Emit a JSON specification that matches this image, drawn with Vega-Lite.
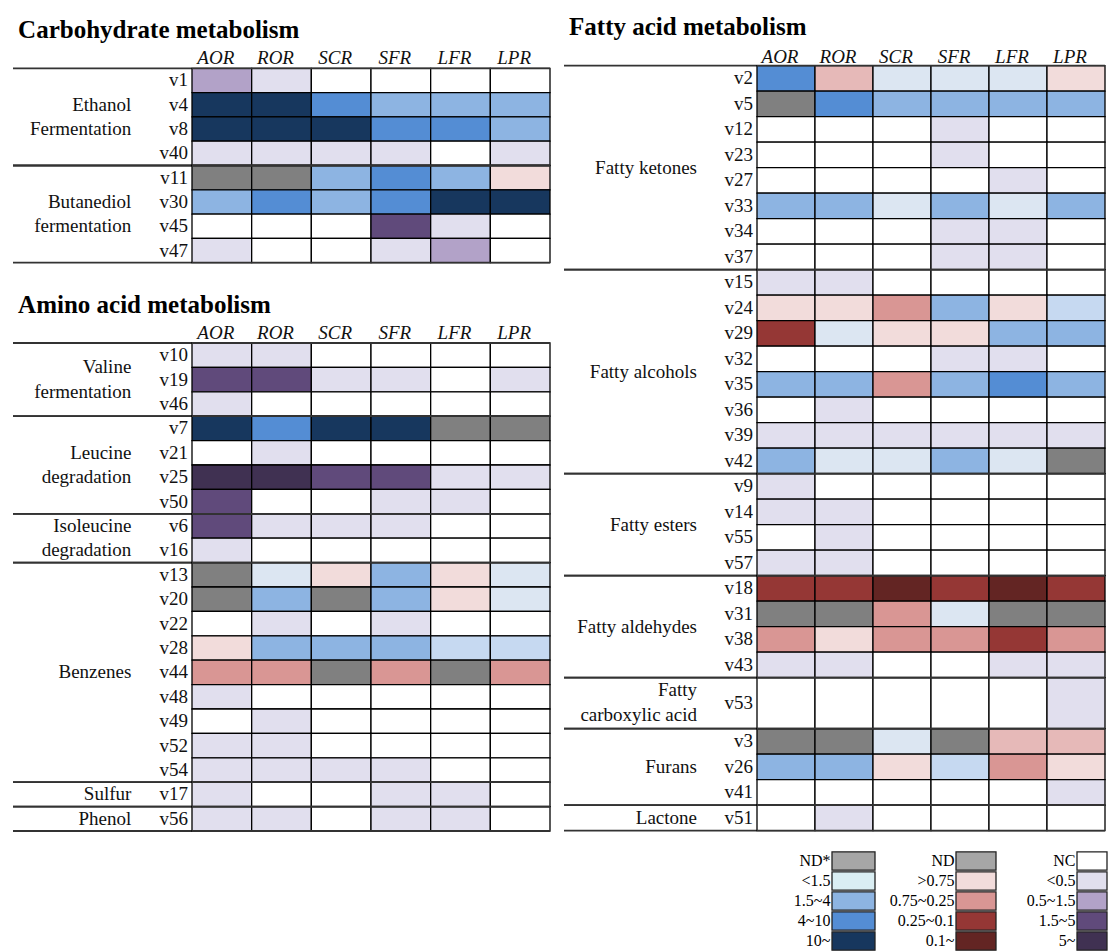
{
  "$schema": "https://vega.github.io/schema/vega-lite/v6.json",
  "padding": {"left": 12, "top": 15, "right": 0, "bottom": 0},
  "config": {"view": {"stroke": null}, "text": {"font": "Liberation Serif, Times New Roman, Times, DejaVu Serif, serif"}},
  "datasets": {
    "cols": [{"s":"AOR"},{"s":"ROR"},{"s":"SCR"},{"s":"SFR"},{"s":"LFR"},{"s":"LPR"}],
    "carbG": [
      {"g":"Ethanol\nFermentation","first":"v1","last":"v40","a":"v4","k":"m"},
      {"g":"Butanediol\nfermentation","first":"v11","last":"v47","a":"v30","k":"m"}
    ],
    "aminoG": [
      {"g":"Valine\nfermentation","first":"v10","last":"v46","a":"v10","k":"e"},
      {"g":"Leucine\ndegradation","first":"v7","last":"v50","a":"v21","k":"m"},
      {"g":"Isoleucine\ndegradation","first":"v6","last":"v16","a":"v6","k":"m"},
      {"g":"Benzenes","first":"v13","last":"v54","a":"v44","k":"m"},
      {"g":"Sulfur","first":"v17","last":"v17","a":"v17","k":"m"},
      {"g":"Phenol","first":"v56","last":"v56","a":"v56","k":"m"}
    ],
    "fattyG": [
      {"g":"Fatty ketones","first":"v2","last":"v37","a":"v23","k":"e"},
      {"g":"Fatty alcohols","first":"v15","last":"v42","a":"v32","k":"e"},
      {"g":"Fatty esters","first":"v9","last":"v57","a":"v14","k":"e"},
      {"g":"Fatty aldehydes","first":"v18","last":"v43","a":"v31","k":"e"},
      {"g":"Fatty\ncarboxylic acid","first":"v53","last":"v53+","a":"v53","k":"m"},
      {"g":"Furans","first":"v3","last":"v41","a":"v26","k":"m"},
      {"g":"Lactone","first":"v51","last":"v51","a":"v51","k":"m"}
    ],
    "leg": [
      {"k":"b","lab":"ND*","c":"G"},{"k":"b","lab":"<1.5","c":"B1"},{"k":"b","lab":"1.5~4","c":"B2"},{"k":"b","lab":"4~10","c":"B3"},{"k":"b","lab":"10~","c":"B4"},
      {"k":"r","lab":"ND","c":"G"},{"k":"r","lab":">0.75","c":"R1"},{"k":"r","lab":"0.75~0.25","c":"R2"},{"k":"r","lab":"0.25~0.1","c":"R3"},{"k":"r","lab":"0.1~","c":"R4"},
      {"k":"p","lab":"NC","c":"W"},{"k":"p","lab":"<0.5","c":"P1"},{"k":"p","lab":"0.5~1.5","c":"P2"},{"k":"p","lab":"1.5~5","c":"P3"},{"k":"p","lab":"5~","c":"P4"}
    ],
    "carb": [
      {"v":"v1","s":"AOR","c":"P2"},{"v":"v1","s":"ROR","c":"P1"},{"v":"v1","s":"SCR","c":"W"},{"v":"v1","s":"SFR","c":"W"},{"v":"v1","s":"LFR","c":"W"},{"v":"v1","s":"LPR","c":"W"},
      {"v":"v4","s":"AOR","c":"B4"},{"v":"v4","s":"ROR","c":"B4"},{"v":"v4","s":"SCR","c":"B3"},{"v":"v4","s":"SFR","c":"B2"},{"v":"v4","s":"LFR","c":"B2"},{"v":"v4","s":"LPR","c":"B2"},
      {"v":"v8","s":"AOR","c":"B4"},{"v":"v8","s":"ROR","c":"B4"},{"v":"v8","s":"SCR","c":"B4"},{"v":"v8","s":"SFR","c":"B3"},{"v":"v8","s":"LFR","c":"B3"},{"v":"v8","s":"LPR","c":"B2"},
      {"v":"v40","s":"AOR","c":"P1"},{"v":"v40","s":"ROR","c":"P1"},{"v":"v40","s":"SCR","c":"P1"},{"v":"v40","s":"SFR","c":"P1"},{"v":"v40","s":"LFR","c":"W"},{"v":"v40","s":"LPR","c":"P1"},
      {"v":"v11","s":"AOR","c":"G"},{"v":"v11","s":"ROR","c":"G"},{"v":"v11","s":"SCR","c":"B2"},{"v":"v11","s":"SFR","c":"B3"},{"v":"v11","s":"LFR","c":"B2"},{"v":"v11","s":"LPR","c":"R1"},
      {"v":"v30","s":"AOR","c":"B2"},{"v":"v30","s":"ROR","c":"B3"},{"v":"v30","s":"SCR","c":"B2"},{"v":"v30","s":"SFR","c":"B3"},{"v":"v30","s":"LFR","c":"B4"},{"v":"v30","s":"LPR","c":"B4"},
      {"v":"v45","s":"AOR","c":"W"},{"v":"v45","s":"ROR","c":"W"},{"v":"v45","s":"SCR","c":"W"},{"v":"v45","s":"SFR","c":"P3"},{"v":"v45","s":"LFR","c":"P1"},{"v":"v45","s":"LPR","c":"W"},
      {"v":"v47","s":"AOR","c":"P1"},{"v":"v47","s":"ROR","c":"W"},{"v":"v47","s":"SCR","c":"W"},{"v":"v47","s":"SFR","c":"P1"},{"v":"v47","s":"LFR","c":"P2"},{"v":"v47","s":"LPR","c":"W"}
    ],
    "amino": [
      {"v":"v10","s":"AOR","c":"P1"},{"v":"v10","s":"ROR","c":"P1"},{"v":"v10","s":"SCR","c":"W"},{"v":"v10","s":"SFR","c":"W"},{"v":"v10","s":"LFR","c":"W"},{"v":"v10","s":"LPR","c":"W"},
      {"v":"v19","s":"AOR","c":"P3"},{"v":"v19","s":"ROR","c":"P3"},{"v":"v19","s":"SCR","c":"P1"},{"v":"v19","s":"SFR","c":"P1"},{"v":"v19","s":"LFR","c":"W"},{"v":"v19","s":"LPR","c":"P1"},
      {"v":"v46","s":"AOR","c":"P1"},{"v":"v46","s":"ROR","c":"W"},{"v":"v46","s":"SCR","c":"W"},{"v":"v46","s":"SFR","c":"W"},{"v":"v46","s":"LFR","c":"W"},{"v":"v46","s":"LPR","c":"W"},
      {"v":"v7","s":"AOR","c":"B4"},{"v":"v7","s":"ROR","c":"B3"},{"v":"v7","s":"SCR","c":"B4"},{"v":"v7","s":"SFR","c":"B4"},{"v":"v7","s":"LFR","c":"G"},{"v":"v7","s":"LPR","c":"G"},
      {"v":"v21","s":"AOR","c":"W"},{"v":"v21","s":"ROR","c":"P1"},{"v":"v21","s":"SCR","c":"W"},{"v":"v21","s":"SFR","c":"W"},{"v":"v21","s":"LFR","c":"W"},{"v":"v21","s":"LPR","c":"W"},
      {"v":"v25","s":"AOR","c":"P4"},{"v":"v25","s":"ROR","c":"P4"},{"v":"v25","s":"SCR","c":"P3"},{"v":"v25","s":"SFR","c":"P3"},{"v":"v25","s":"LFR","c":"P1"},{"v":"v25","s":"LPR","c":"P1"},
      {"v":"v50","s":"AOR","c":"P3"},{"v":"v50","s":"ROR","c":"W"},{"v":"v50","s":"SCR","c":"W"},{"v":"v50","s":"SFR","c":"P1"},{"v":"v50","s":"LFR","c":"P1"},{"v":"v50","s":"LPR","c":"W"},
      {"v":"v6","s":"AOR","c":"P3"},{"v":"v6","s":"ROR","c":"P1"},{"v":"v6","s":"SCR","c":"P1"},{"v":"v6","s":"SFR","c":"P1"},{"v":"v6","s":"LFR","c":"W"},{"v":"v6","s":"LPR","c":"W"},
      {"v":"v16","s":"AOR","c":"P1"},{"v":"v16","s":"ROR","c":"W"},{"v":"v16","s":"SCR","c":"W"},{"v":"v16","s":"SFR","c":"W"},{"v":"v16","s":"LFR","c":"W"},{"v":"v16","s":"LPR","c":"W"},
      {"v":"v13","s":"AOR","c":"G"},{"v":"v13","s":"ROR","c":"B1"},{"v":"v13","s":"SCR","c":"R1"},{"v":"v13","s":"SFR","c":"B2"},{"v":"v13","s":"LFR","c":"R1"},{"v":"v13","s":"LPR","c":"B1"},
      {"v":"v20","s":"AOR","c":"G"},{"v":"v20","s":"ROR","c":"B2"},{"v":"v20","s":"SCR","c":"G"},{"v":"v20","s":"SFR","c":"B2"},{"v":"v20","s":"LFR","c":"R1"},{"v":"v20","s":"LPR","c":"B1"},
      {"v":"v22","s":"AOR","c":"W"},{"v":"v22","s":"ROR","c":"P1"},{"v":"v22","s":"SCR","c":"W"},{"v":"v22","s":"SFR","c":"P1"},{"v":"v22","s":"LFR","c":"W"},{"v":"v22","s":"LPR","c":"W"},
      {"v":"v28","s":"AOR","c":"R1"},{"v":"v28","s":"ROR","c":"B2"},{"v":"v28","s":"SCR","c":"B2"},{"v":"v28","s":"SFR","c":"B2"},{"v":"v28","s":"LFR","c":"B1x"},{"v":"v28","s":"LPR","c":"B1x"},
      {"v":"v44","s":"AOR","c":"R2"},{"v":"v44","s":"ROR","c":"R2"},{"v":"v44","s":"SCR","c":"G"},{"v":"v44","s":"SFR","c":"R2"},{"v":"v44","s":"LFR","c":"G"},{"v":"v44","s":"LPR","c":"R2"},
      {"v":"v48","s":"AOR","c":"P1"},{"v":"v48","s":"ROR","c":"W"},{"v":"v48","s":"SCR","c":"W"},{"v":"v48","s":"SFR","c":"W"},{"v":"v48","s":"LFR","c":"W"},{"v":"v48","s":"LPR","c":"W"},
      {"v":"v49","s":"AOR","c":"W"},{"v":"v49","s":"ROR","c":"P1"},{"v":"v49","s":"SCR","c":"W"},{"v":"v49","s":"SFR","c":"W"},{"v":"v49","s":"LFR","c":"W"},{"v":"v49","s":"LPR","c":"W"},
      {"v":"v52","s":"AOR","c":"P1"},{"v":"v52","s":"ROR","c":"P1"},{"v":"v52","s":"SCR","c":"W"},{"v":"v52","s":"SFR","c":"W"},{"v":"v52","s":"LFR","c":"W"},{"v":"v52","s":"LPR","c":"W"},
      {"v":"v54","s":"AOR","c":"P1"},{"v":"v54","s":"ROR","c":"P1"},{"v":"v54","s":"SCR","c":"P1"},{"v":"v54","s":"SFR","c":"P1"},{"v":"v54","s":"LFR","c":"W"},{"v":"v54","s":"LPR","c":"W"},
      {"v":"v17","s":"AOR","c":"P1"},{"v":"v17","s":"ROR","c":"W"},{"v":"v17","s":"SCR","c":"W"},{"v":"v17","s":"SFR","c":"P1"},{"v":"v17","s":"LFR","c":"P1"},{"v":"v17","s":"LPR","c":"W"},
      {"v":"v56","s":"AOR","c":"P1"},{"v":"v56","s":"ROR","c":"P1"},{"v":"v56","s":"SCR","c":"W"},{"v":"v56","s":"SFR","c":"P1"},{"v":"v56","s":"LFR","c":"P1"},{"v":"v56","s":"LPR","c":"W"}
    ],
    "fatty": [
      {"v":"v2","s":"AOR","c":"B3"},{"v":"v2","s":"ROR","c":"R1x"},{"v":"v2","s":"SCR","c":"B1"},{"v":"v2","s":"SFR","c":"B1"},{"v":"v2","s":"LFR","c":"B1"},{"v":"v2","s":"LPR","c":"R1"},
      {"v":"v5","s":"AOR","c":"G"},{"v":"v5","s":"ROR","c":"B3"},{"v":"v5","s":"SCR","c":"B2"},{"v":"v5","s":"SFR","c":"B2"},{"v":"v5","s":"LFR","c":"B2"},{"v":"v5","s":"LPR","c":"B2"},
      {"v":"v12","s":"AOR","c":"W"},{"v":"v12","s":"ROR","c":"W"},{"v":"v12","s":"SCR","c":"W"},{"v":"v12","s":"SFR","c":"P1"},{"v":"v12","s":"LFR","c":"W"},{"v":"v12","s":"LPR","c":"W"},
      {"v":"v23","s":"AOR","c":"W"},{"v":"v23","s":"ROR","c":"W"},{"v":"v23","s":"SCR","c":"W"},{"v":"v23","s":"SFR","c":"P1"},{"v":"v23","s":"LFR","c":"W"},{"v":"v23","s":"LPR","c":"W"},
      {"v":"v27","s":"AOR","c":"W"},{"v":"v27","s":"ROR","c":"W"},{"v":"v27","s":"SCR","c":"W"},{"v":"v27","s":"SFR","c":"W"},{"v":"v27","s":"LFR","c":"P1"},{"v":"v27","s":"LPR","c":"W"},
      {"v":"v33","s":"AOR","c":"B2"},{"v":"v33","s":"ROR","c":"B2"},{"v":"v33","s":"SCR","c":"B1"},{"v":"v33","s":"SFR","c":"B2"},{"v":"v33","s":"LFR","c":"B1"},{"v":"v33","s":"LPR","c":"B2"},
      {"v":"v34","s":"AOR","c":"W"},{"v":"v34","s":"ROR","c":"W"},{"v":"v34","s":"SCR","c":"W"},{"v":"v34","s":"SFR","c":"P1"},{"v":"v34","s":"LFR","c":"P1"},{"v":"v34","s":"LPR","c":"W"},
      {"v":"v37","s":"AOR","c":"W"},{"v":"v37","s":"ROR","c":"W"},{"v":"v37","s":"SCR","c":"W"},{"v":"v37","s":"SFR","c":"P1"},{"v":"v37","s":"LFR","c":"P1"},{"v":"v37","s":"LPR","c":"W"},
      {"v":"v15","s":"AOR","c":"P1"},{"v":"v15","s":"ROR","c":"P1"},{"v":"v15","s":"SCR","c":"W"},{"v":"v15","s":"SFR","c":"W"},{"v":"v15","s":"LFR","c":"W"},{"v":"v15","s":"LPR","c":"W"},
      {"v":"v24","s":"AOR","c":"R1"},{"v":"v24","s":"ROR","c":"R1"},{"v":"v24","s":"SCR","c":"R2"},{"v":"v24","s":"SFR","c":"B2"},{"v":"v24","s":"LFR","c":"R1"},{"v":"v24","s":"LPR","c":"B1x"},
      {"v":"v29","s":"AOR","c":"R3"},{"v":"v29","s":"ROR","c":"B1"},{"v":"v29","s":"SCR","c":"R1"},{"v":"v29","s":"SFR","c":"R1"},{"v":"v29","s":"LFR","c":"B2"},{"v":"v29","s":"LPR","c":"B2"},
      {"v":"v32","s":"AOR","c":"W"},{"v":"v32","s":"ROR","c":"W"},{"v":"v32","s":"SCR","c":"W"},{"v":"v32","s":"SFR","c":"P1"},{"v":"v32","s":"LFR","c":"P1"},{"v":"v32","s":"LPR","c":"W"},
      {"v":"v35","s":"AOR","c":"B2"},{"v":"v35","s":"ROR","c":"B2"},{"v":"v35","s":"SCR","c":"R2"},{"v":"v35","s":"SFR","c":"B2"},{"v":"v35","s":"LFR","c":"B3"},{"v":"v35","s":"LPR","c":"B2"},
      {"v":"v36","s":"AOR","c":"W"},{"v":"v36","s":"ROR","c":"P1"},{"v":"v36","s":"SCR","c":"W"},{"v":"v36","s":"SFR","c":"W"},{"v":"v36","s":"LFR","c":"W"},{"v":"v36","s":"LPR","c":"W"},
      {"v":"v39","s":"AOR","c":"P1"},{"v":"v39","s":"ROR","c":"P1"},{"v":"v39","s":"SCR","c":"P1"},{"v":"v39","s":"SFR","c":"P1"},{"v":"v39","s":"LFR","c":"P1"},{"v":"v39","s":"LPR","c":"P1"},
      {"v":"v42","s":"AOR","c":"B2"},{"v":"v42","s":"ROR","c":"B1"},{"v":"v42","s":"SCR","c":"B1"},{"v":"v42","s":"SFR","c":"B2"},{"v":"v42","s":"LFR","c":"B1"},{"v":"v42","s":"LPR","c":"G"},
      {"v":"v9","s":"AOR","c":"P1"},{"v":"v9","s":"ROR","c":"W"},{"v":"v9","s":"SCR","c":"W"},{"v":"v9","s":"SFR","c":"W"},{"v":"v9","s":"LFR","c":"W"},{"v":"v9","s":"LPR","c":"W"},
      {"v":"v14","s":"AOR","c":"P1"},{"v":"v14","s":"ROR","c":"P1"},{"v":"v14","s":"SCR","c":"W"},{"v":"v14","s":"SFR","c":"W"},{"v":"v14","s":"LFR","c":"W"},{"v":"v14","s":"LPR","c":"W"},
      {"v":"v55","s":"AOR","c":"W"},{"v":"v55","s":"ROR","c":"P1"},{"v":"v55","s":"SCR","c":"W"},{"v":"v55","s":"SFR","c":"W"},{"v":"v55","s":"LFR","c":"W"},{"v":"v55","s":"LPR","c":"W"},
      {"v":"v57","s":"AOR","c":"P1"},{"v":"v57","s":"ROR","c":"P1"},{"v":"v57","s":"SCR","c":"W"},{"v":"v57","s":"SFR","c":"W"},{"v":"v57","s":"LFR","c":"W"},{"v":"v57","s":"LPR","c":"W"},
      {"v":"v18","s":"AOR","c":"R3"},{"v":"v18","s":"ROR","c":"R3"},{"v":"v18","s":"SCR","c":"R4"},{"v":"v18","s":"SFR","c":"R3"},{"v":"v18","s":"LFR","c":"R4"},{"v":"v18","s":"LPR","c":"R3"},
      {"v":"v31","s":"AOR","c":"G"},{"v":"v31","s":"ROR","c":"G"},{"v":"v31","s":"SCR","c":"R2"},{"v":"v31","s":"SFR","c":"B1"},{"v":"v31","s":"LFR","c":"G"},{"v":"v31","s":"LPR","c":"G"},
      {"v":"v38","s":"AOR","c":"R2"},{"v":"v38","s":"ROR","c":"R1"},{"v":"v38","s":"SCR","c":"R2"},{"v":"v38","s":"SFR","c":"R2"},{"v":"v38","s":"LFR","c":"R3"},{"v":"v38","s":"LPR","c":"R2"},
      {"v":"v43","s":"AOR","c":"P1"},{"v":"v43","s":"ROR","c":"P1"},{"v":"v43","s":"SCR","c":"W"},{"v":"v43","s":"SFR","c":"W"},{"v":"v43","s":"LFR","c":"P1"},{"v":"v43","s":"LPR","c":"P1"},
      {"v":"v53","s":"AOR","c":"W"},{"v":"v53","s":"ROR","c":"W"},{"v":"v53","s":"SCR","c":"W"},{"v":"v53","s":"SFR","c":"W"},{"v":"v53","s":"LFR","c":"W"},{"v":"v53","s":"LPR","c":"P1"},
      {"v":"v3","s":"AOR","c":"G"},{"v":"v3","s":"ROR","c":"G"},{"v":"v3","s":"SCR","c":"B1"},{"v":"v3","s":"SFR","c":"G"},{"v":"v3","s":"LFR","c":"R1x"},{"v":"v3","s":"LPR","c":"R1x"},
      {"v":"v26","s":"AOR","c":"B2"},{"v":"v26","s":"ROR","c":"B2"},{"v":"v26","s":"SCR","c":"R1"},{"v":"v26","s":"SFR","c":"B1x"},{"v":"v26","s":"LFR","c":"R2"},{"v":"v26","s":"LPR","c":"R1"},
      {"v":"v41","s":"AOR","c":"W"},{"v":"v41","s":"ROR","c":"W"},{"v":"v41","s":"SCR","c":"W"},{"v":"v41","s":"SFR","c":"W"},{"v":"v41","s":"LFR","c":"W"},{"v":"v41","s":"LPR","c":"P1"},
      {"v":"v51","s":"AOR","c":"W"},{"v":"v51","s":"ROR","c":"P1"},{"v":"v51","s":"SCR","c":"W"},{"v":"v51","s":"SFR","c":"W"},{"v":"v51","s":"LFR","c":"W"},{"v":"v51","s":"LPR","c":"W"}
    ]
  },
  "spacing": 12,
  "resolve": {"scale": {"color": "independent"}},
  "hconcat": [
    {
      "spacing": 28.6,
      "vconcat": [
        {
          "title": {"text": "Carbohydrate metabolism", "anchor": "start", "dx": 6, "offset": 1, "font": "Liberation Serif, Times New Roman, Times, DejaVu Serif, serif", "fontSize": 25, "fontWeight": "bold", "color": "#000"},
          "bounds": "flush",
          "spacing": 0,
          "hconcat": [
            {
              "width": 179, "height": 218.7,
              "layer": [
                {"data": {"name": "carbG"}, "mark": {"type": "rule", "color": "#333", "strokeWidth": 1.8},
                 "encoding": {"y": {"field": "first", "type": "nominal", "bandPosition": 0, "scale": {"type": "band", "domain": ["hdr","v1","v4","v8","v40","v11","v30","v45","v47"], "paddingInner": 0, "paddingOuter": 0}, "axis": null}}},
                {"data": {"name": "carbG"}, "mark": {"type": "rule", "color": "#333", "strokeWidth": 1.8},
                 "encoding": {"y": {"field": "last", "type": "nominal", "bandPosition": 1, "scale": {"type": "band", "domain": ["hdr","v1","v4","v8","v40","v11","v30","v45","v47"], "paddingInner": 0, "paddingOuter": 0}, "axis": null}}},
                {"data": {"name": "carbG"}, "transform": [{"filter": "datum.k == 'm'"}],
                 "mark": {"type": "text", "align": "right", "baseline": "middle", "lineBreak": "\n", "lineHeight": 24.3, "font": "Liberation Serif, Times New Roman, Times, DejaVu Serif, serif", "fontSize": 19, "color": "#111"},
                 "encoding": {"x": {"datum": 0.661, "type": "quantitative", "scale": {"domain": [0, 1], "nice": false, "zero": false}, "axis": null},
                              "y": {"field": "a", "type": "nominal", "bandPosition": 0.5, "scale": {"type": "band", "domain": ["hdr","v1","v4","v8","v40","v11","v30","v45","v47"], "paddingInner": 0, "paddingOuter": 0}, "axis": null},
                              "text": {"field": "g"}}},
                {"data": {"name": "carb"}, "transform": [{"filter": "datum.s == 'AOR'"}],
                 "mark": {"type": "text", "align": "right", "baseline": "middle", "dx": -4, "font": "Liberation Serif, Times New Roman, Times, DejaVu Serif, serif", "fontSize": 19, "color": "#111"},
                 "encoding": {"x": {"datum": 1, "type": "quantitative", "scale": {"domain": [0, 1], "nice": false, "zero": false}, "axis": null},
                              "y": {"field": "v", "type": "nominal", "scale": {"type": "band", "domain": ["hdr","v1","v4","v8","v40","v11","v30","v45","v47"], "paddingInner": 0, "paddingOuter": 0}, "axis": null},
                              "text": {"field": "v"}}}
              ]
            },
            {
              "width": 358, "height": 218.7,
              "layer": [
                {"data": {"name": "carb"}, "mark": {"type": "rect", "stroke": "#000", "strokeWidth": 1.3},
                 "encoding": {"x": {"field": "s", "type": "nominal", "scale": {"type": "band", "domain": ["AOR","ROR","SCR","SFR","LFR","LPR"], "paddingInner": 0, "paddingOuter": 0}, "axis": null},
                              "y": {"field": "v", "type": "nominal", "scale": {"type": "band", "domain": ["hdr","v1","v4","v8","v40","v11","v30","v45","v47"], "paddingInner": 0, "paddingOuter": 0}, "axis": null},
                              "color": {"field": "c", "type": "nominal", "scale": {"domain": ["W","P1","P2","P3","P4","G","B1","B1x","B2","B3","B4","R1","R1x","R2","R3","R4"], "range": ["#ffffff","#e1dfee","#b2a2c8","#604a7b","#403152","#808080","#dce6f2","#c6d9f1","#8db4e2","#548dd4","#17375e","#f2dcdb","#e6b9b8","#d99694","#953735","#632523"]}, "legend": null}}},
                {"data": {"name": "cols"}, "mark": {"type": "text", "font": "Liberation Serif, Times New Roman, Times, DejaVu Serif, serif", "fontSize": 19, "fontStyle": "italic", "baseline": "middle", "dx": -6, "dy": 2, "color": "#111"},
                 "encoding": {"x": {"field": "s", "type": "nominal", "scale": {"type": "band", "domain": ["AOR","ROR","SCR","SFR","LFR","LPR"], "paddingInner": 0, "paddingOuter": 0}, "axis": null},
                              "y": {"datum": "hdr", "type": "nominal", "scale": {"type": "band", "domain": ["hdr","v1","v4","v8","v40","v11","v30","v45","v47"], "paddingInner": 0, "paddingOuter": 0}, "axis": null},
                              "text": {"field": "s"}}},
                {"data": {"name": "carbG"}, "mark": {"type": "rule", "color": "#333", "strokeWidth": 1.8},
                 "encoding": {"y": {"field": "first", "type": "nominal", "bandPosition": 0, "scale": {"type": "band", "domain": ["hdr","v1","v4","v8","v40","v11","v30","v45","v47"], "paddingInner": 0, "paddingOuter": 0}, "axis": null}}},
                {"data": {"name": "carbG"}, "mark": {"type": "rule", "color": "#333", "strokeWidth": 1.8},
                 "encoding": {"y": {"field": "last", "type": "nominal", "bandPosition": 1, "scale": {"type": "band", "domain": ["hdr","v1","v4","v8","v40","v11","v30","v45","v47"], "paddingInner": 0, "paddingOuter": 0}, "axis": null}}}
              ]
            }
          ]
        },
        {
          "title": {"text": "Amino acid metabolism", "anchor": "start", "dx": 6, "offset": 1, "font": "Liberation Serif, Times New Roman, Times, DejaVu Serif, serif", "fontSize": 25, "fontWeight": "bold", "color": "#000"},
          "bounds": "flush",
          "spacing": 0,
          "hconcat": [
            {
              "width": 179, "height": 512.4,
              "layer": [
                {"data": {"name": "aminoG"}, "mark": {"type": "rule", "color": "#333", "strokeWidth": 1.8},
                 "encoding": {"y": {"field": "first", "type": "nominal", "bandPosition": 0, "scale": {"type": "band", "domain": ["hdr","v10","v19","v46","v7","v21","v25","v50","v6","v16","v13","v20","v22","v28","v44","v48","v49","v52","v54","v17","v56"], "paddingInner": 0, "paddingOuter": 0}, "axis": null}}},
                {"data": {"name": "aminoG"}, "mark": {"type": "rule", "color": "#333", "strokeWidth": 1.8},
                 "encoding": {"y": {"field": "last", "type": "nominal", "bandPosition": 1, "scale": {"type": "band", "domain": ["hdr","v10","v19","v46","v7","v21","v25","v50","v6","v16","v13","v20","v22","v28","v44","v48","v49","v52","v54","v17","v56"], "paddingInner": 0, "paddingOuter": 0}, "axis": null}}},
                {"data": {"name": "aminoG"}, "transform": [{"filter": "datum.k == 'e'"}],
                 "mark": {"type": "text", "align": "right", "baseline": "middle", "lineBreak": "\n", "lineHeight": 24.4, "font": "Liberation Serif, Times New Roman, Times, DejaVu Serif, serif", "fontSize": 19, "color": "#111"},
                 "encoding": {"x": {"datum": 0.661, "type": "quantitative", "scale": {"domain": [0, 1], "nice": false, "zero": false}, "axis": null},
                              "y": {"field": "a", "type": "nominal", "bandPosition": 1, "scale": {"type": "band", "domain": ["hdr","v10","v19","v46","v7","v21","v25","v50","v6","v16","v13","v20","v22","v28","v44","v48","v49","v52","v54","v17","v56"], "paddingInner": 0, "paddingOuter": 0}, "axis": null},
                              "text": {"field": "g"}}},
                {"data": {"name": "aminoG"}, "transform": [{"filter": "datum.k == 'm'"}],
                 "mark": {"type": "text", "align": "right", "baseline": "middle", "lineBreak": "\n", "lineHeight": 24.4, "font": "Liberation Serif, Times New Roman, Times, DejaVu Serif, serif", "fontSize": 19, "color": "#111"},
                 "encoding": {"x": {"datum": 0.661, "type": "quantitative", "scale": {"domain": [0, 1], "nice": false, "zero": false}, "axis": null},
                              "y": {"field": "a", "type": "nominal", "bandPosition": 0.5, "scale": {"type": "band", "domain": ["hdr","v10","v19","v46","v7","v21","v25","v50","v6","v16","v13","v20","v22","v28","v44","v48","v49","v52","v54","v17","v56"], "paddingInner": 0, "paddingOuter": 0}, "axis": null},
                              "text": {"field": "g"}}},
                {"data": {"name": "amino"}, "transform": [{"filter": "datum.s == 'AOR'"}],
                 "mark": {"type": "text", "align": "right", "baseline": "middle", "dx": -4, "font": "Liberation Serif, Times New Roman, Times, DejaVu Serif, serif", "fontSize": 19, "color": "#111"},
                 "encoding": {"x": {"datum": 1, "type": "quantitative", "scale": {"domain": [0, 1], "nice": false, "zero": false}, "axis": null},
                              "y": {"field": "v", "type": "nominal", "scale": {"type": "band", "domain": ["hdr","v10","v19","v46","v7","v21","v25","v50","v6","v16","v13","v20","v22","v28","v44","v48","v49","v52","v54","v17","v56"], "paddingInner": 0, "paddingOuter": 0}, "axis": null},
                              "text": {"field": "v"}}}
              ]
            },
            {
              "width": 358, "height": 512.4,
              "layer": [
                {"data": {"name": "amino"}, "mark": {"type": "rect", "stroke": "#000", "strokeWidth": 1.3},
                 "encoding": {"x": {"field": "s", "type": "nominal", "scale": {"type": "band", "domain": ["AOR","ROR","SCR","SFR","LFR","LPR"], "paddingInner": 0, "paddingOuter": 0}, "axis": null},
                              "y": {"field": "v", "type": "nominal", "scale": {"type": "band", "domain": ["hdr","v10","v19","v46","v7","v21","v25","v50","v6","v16","v13","v20","v22","v28","v44","v48","v49","v52","v54","v17","v56"], "paddingInner": 0, "paddingOuter": 0}, "axis": null},
                              "color": {"field": "c", "type": "nominal", "scale": {"domain": ["W","P1","P2","P3","P4","G","B1","B1x","B2","B3","B4","R1","R1x","R2","R3","R4"], "range": ["#ffffff","#e1dfee","#b2a2c8","#604a7b","#403152","#808080","#dce6f2","#c6d9f1","#8db4e2","#548dd4","#17375e","#f2dcdb","#e6b9b8","#d99694","#953735","#632523"]}, "legend": null}}},
                {"data": {"name": "cols"}, "mark": {"type": "text", "font": "Liberation Serif, Times New Roman, Times, DejaVu Serif, serif", "fontSize": 19, "fontStyle": "italic", "baseline": "middle", "dx": -6, "dy": 2, "color": "#111"},
                 "encoding": {"x": {"field": "s", "type": "nominal", "scale": {"type": "band", "domain": ["AOR","ROR","SCR","SFR","LFR","LPR"], "paddingInner": 0, "paddingOuter": 0}, "axis": null},
                              "y": {"datum": "hdr", "type": "nominal", "scale": {"type": "band", "domain": ["hdr","v10","v19","v46","v7","v21","v25","v50","v6","v16","v13","v20","v22","v28","v44","v48","v49","v52","v54","v17","v56"], "paddingInner": 0, "paddingOuter": 0}, "axis": null},
                              "text": {"field": "s"}}},
                {"data": {"name": "aminoG"}, "mark": {"type": "rule", "color": "#333", "strokeWidth": 1.8},
                 "encoding": {"y": {"field": "first", "type": "nominal", "bandPosition": 0, "scale": {"type": "band", "domain": ["hdr","v10","v19","v46","v7","v21","v25","v50","v6","v16","v13","v20","v22","v28","v44","v48","v49","v52","v54","v17","v56"], "paddingInner": 0, "paddingOuter": 0}, "axis": null}}},
                {"data": {"name": "aminoG"}, "mark": {"type": "rule", "color": "#333", "strokeWidth": 1.8},
                 "encoding": {"y": {"field": "last", "type": "nominal", "bandPosition": 1, "scale": {"type": "band", "domain": ["hdr","v10","v19","v46","v7","v21","v25","v50","v6","v16","v13","v20","v22","v28","v44","v48","v49","v52","v54","v17","v56"], "paddingInner": 0, "paddingOuter": 0}, "axis": null}}}
              ]
            }
          ]
        }
      ]
    },
    {
      "spacing": 19,
      "resolve": {"scale": {"color": "independent"}},
      "vconcat": [
        {
          "title": {"text": "Fatty acid metabolism", "anchor": "start", "dx": 6, "offset": 4, "font": "Liberation Serif, Times New Roman, Times, DejaVu Serif, serif", "fontSize": 25, "fontWeight": "bold", "color": "#000"},
          "bounds": "flush",
          "spacing": 0,
          "hconcat": [
            {
              "width": 193, "height": 786.7,
              "layer": [
                {"data": {"name": "fattyG"}, "mark": {"type": "rule", "color": "#333", "strokeWidth": 1.8},
                 "encoding": {"y": {"field": "first", "type": "nominal", "bandPosition": 0, "scale": {"type": "band", "range": [-3.8, 786.7], "domain": ["hdr","v2","v5","v12","v23","v27","v33","v34","v37","v15","v24","v29","v32","v35","v36","v39","v42","v9","v14","v55","v57","v18","v31","v38","v43","v53","v53+","v3","v26","v41","v51"], "paddingInner": 0, "paddingOuter": 0}, "axis": null}}},
                {"data": {"name": "fattyG"}, "mark": {"type": "rule", "color": "#333", "strokeWidth": 1.8},
                 "encoding": {"y": {"field": "last", "type": "nominal", "bandPosition": 1, "scale": {"type": "band", "range": [-3.8, 786.7], "domain": ["hdr","v2","v5","v12","v23","v27","v33","v34","v37","v15","v24","v29","v32","v35","v36","v39","v42","v9","v14","v55","v57","v18","v31","v38","v43","v53","v53+","v3","v26","v41","v51"], "paddingInner": 0, "paddingOuter": 0}, "axis": null}}},
                {"data": {"name": "fattyG"}, "transform": [{"filter": "datum.k == 'e'"}],
                 "mark": {"type": "text", "align": "right", "baseline": "middle", "lineBreak": "\n", "lineHeight": 24.7, "font": "Liberation Serif, Times New Roman, Times, DejaVu Serif, serif", "fontSize": 19, "color": "#111"},
                 "encoding": {"x": {"datum": 0.689, "type": "quantitative", "scale": {"domain": [0, 1], "nice": false, "zero": false}, "axis": null},
                              "y": {"field": "a", "type": "nominal", "bandPosition": 1, "scale": {"type": "band", "range": [-3.8, 786.7], "domain": ["hdr","v2","v5","v12","v23","v27","v33","v34","v37","v15","v24","v29","v32","v35","v36","v39","v42","v9","v14","v55","v57","v18","v31","v38","v43","v53","v53+","v3","v26","v41","v51"], "paddingInner": 0, "paddingOuter": 0}, "axis": null},
                              "text": {"field": "g"}}},
                {"data": {"name": "fattyG"}, "transform": [{"filter": "datum.k == 'm'"}],
                 "mark": {"type": "text", "align": "right", "baseline": "middle", "lineBreak": "\n", "lineHeight": 24.7, "font": "Liberation Serif, Times New Roman, Times, DejaVu Serif, serif", "fontSize": 19, "color": "#111"},
                 "encoding": {"x": {"datum": 0.689, "type": "quantitative", "scale": {"domain": [0, 1], "nice": false, "zero": false}, "axis": null},
                              "y": {"field": "a", "type": "nominal", "bandPosition": 0.5, "scale": {"type": "band", "range": [-3.8, 786.7], "domain": ["hdr","v2","v5","v12","v23","v27","v33","v34","v37","v15","v24","v29","v32","v35","v36","v39","v42","v9","v14","v55","v57","v18","v31","v38","v43","v53","v53+","v3","v26","v41","v51"], "paddingInner": 0, "paddingOuter": 0}, "axis": null},
                              "text": {"field": "g"}}},
                {"data": {"name": "fatty"}, "transform": [{"filter": "datum.s == 'AOR' && datum.v != 'v53'"}],
                 "mark": {"type": "text", "align": "right", "baseline": "middle", "dx": -4, "font": "Liberation Serif, Times New Roman, Times, DejaVu Serif, serif", "fontSize": 19, "color": "#111"},
                 "encoding": {"x": {"datum": 1, "type": "quantitative", "scale": {"domain": [0, 1], "nice": false, "zero": false}, "axis": null},
                              "y": {"field": "v", "type": "nominal", "scale": {"type": "band", "range": [-3.8, 786.7], "domain": ["hdr","v2","v5","v12","v23","v27","v33","v34","v37","v15","v24","v29","v32","v35","v36","v39","v42","v9","v14","v55","v57","v18","v31","v38","v43","v53","v53+","v3","v26","v41","v51"], "paddingInner": 0, "paddingOuter": 0}, "axis": null},
                              "text": {"field": "v"}}},
                {"data": {"name": "fatty"}, "transform": [{"filter": "datum.s == 'AOR' && datum.v == 'v53'"}],
                 "mark": {"type": "text", "align": "right", "baseline": "middle", "dx": -4, "font": "Liberation Serif, Times New Roman, Times, DejaVu Serif, serif", "fontSize": 19, "color": "#111"},
                 "encoding": {"x": {"datum": 1, "type": "quantitative", "scale": {"domain": [0, 1], "nice": false, "zero": false}, "axis": null},
                              "y": {"field": "v", "type": "nominal", "bandPosition": 1, "scale": {"type": "band", "range": [-3.8, 786.7], "domain": ["hdr","v2","v5","v12","v23","v27","v33","v34","v37","v15","v24","v29","v32","v35","v36","v39","v42","v9","v14","v55","v57","v18","v31","v38","v43","v53","v53+","v3","v26","v41","v51"], "paddingInner": 0, "paddingOuter": 0}, "axis": null},
                              "text": {"field": "v"}}}
              ]
            },
            {
              "width": 348, "height": 786.7,
              "layer": [
                {"data": {"name": "fatty"}, "transform": [{"filter": "datum.v != 'v53'"}], "mark": {"type": "rect", "stroke": "#000", "strokeWidth": 1.3},
                 "encoding": {"x": {"field": "s", "type": "nominal", "scale": {"type": "band", "domain": ["AOR","ROR","SCR","SFR","LFR","LPR"], "paddingInner": 0, "paddingOuter": 0}, "axis": null},
                              "y": {"field": "v", "type": "nominal", "scale": {"type": "band", "range": [-3.8, 786.7], "domain": ["hdr","v2","v5","v12","v23","v27","v33","v34","v37","v15","v24","v29","v32","v35","v36","v39","v42","v9","v14","v55","v57","v18","v31","v38","v43","v53","v53+","v3","v26","v41","v51"], "paddingInner": 0, "paddingOuter": 0}, "axis": null},
                              "color": {"field": "c", "type": "nominal", "scale": {"domain": ["W","P1","P2","P3","P4","G","B1","B1x","B2","B3","B4","R1","R1x","R2","R3","R4"], "range": ["#ffffff","#e1dfee","#b2a2c8","#604a7b","#403152","#808080","#dce6f2","#c6d9f1","#8db4e2","#548dd4","#17375e","#f2dcdb","#e6b9b8","#d99694","#953735","#632523"]}, "legend": null}}},
                {"data": {"name": "fatty"}, "transform": [{"filter": "datum.v == 'v53'"}], "mark": {"type": "rect", "stroke": "#000", "strokeWidth": 1.3},
                 "encoding": {"x": {"field": "s", "type": "nominal", "scale": {"type": "band", "domain": ["AOR","ROR","SCR","SFR","LFR","LPR"], "paddingInner": 0, "paddingOuter": 0}, "axis": null},
                              "y": {"field": "v", "type": "nominal", "bandPosition": 0, "scale": {"type": "band", "range": [-3.8, 786.7], "domain": ["hdr","v2","v5","v12","v23","v27","v33","v34","v37","v15","v24","v29","v32","v35","v36","v39","v42","v9","v14","v55","v57","v18","v31","v38","v43","v53","v53+","v3","v26","v41","v51"], "paddingInner": 0, "paddingOuter": 0}, "axis": null},
                              "y2": {"datum": "v53+", "bandPosition": 1},
                              "color": {"field": "c", "type": "nominal", "scale": {"domain": ["W","P1","P2","P3","P4","G","B1","B1x","B2","B3","B4","R1","R1x","R2","R3","R4"], "range": ["#ffffff","#e1dfee","#b2a2c8","#604a7b","#403152","#808080","#dce6f2","#c6d9f1","#8db4e2","#548dd4","#17375e","#f2dcdb","#e6b9b8","#d99694","#953735","#632523"]}, "legend": null}}},
                {"data": {"name": "cols"}, "mark": {"type": "text", "font": "Liberation Serif, Times New Roman, Times, DejaVu Serif, serif", "fontSize": 19, "fontStyle": "italic", "baseline": "middle", "dx": -6, "dy": 4, "color": "#111"},
                 "encoding": {"x": {"field": "s", "type": "nominal", "scale": {"type": "band", "domain": ["AOR","ROR","SCR","SFR","LFR","LPR"], "paddingInner": 0, "paddingOuter": 0}, "axis": null},
                              "y": {"datum": "hdr", "type": "nominal", "scale": {"type": "band", "range": [-3.8, 786.7], "domain": ["hdr","v2","v5","v12","v23","v27","v33","v34","v37","v15","v24","v29","v32","v35","v36","v39","v42","v9","v14","v55","v57","v18","v31","v38","v43","v53","v53+","v3","v26","v41","v51"], "paddingInner": 0, "paddingOuter": 0}, "axis": null},
                              "text": {"field": "s"}}},
                {"data": {"name": "fattyG"}, "mark": {"type": "rule", "color": "#333", "strokeWidth": 1.8},
                 "encoding": {"y": {"field": "first", "type": "nominal", "bandPosition": 0, "scale": {"type": "band", "range": [-3.8, 786.7], "domain": ["hdr","v2","v5","v12","v23","v27","v33","v34","v37","v15","v24","v29","v32","v35","v36","v39","v42","v9","v14","v55","v57","v18","v31","v38","v43","v53","v53+","v3","v26","v41","v51"], "paddingInner": 0, "paddingOuter": 0}, "axis": null}}},
                {"data": {"name": "fattyG"}, "mark": {"type": "rule", "color": "#333", "strokeWidth": 1.8},
                 "encoding": {"y": {"field": "last", "type": "nominal", "bandPosition": 1, "scale": {"type": "band", "range": [-3.8, 786.7], "domain": ["hdr","v2","v5","v12","v23","v27","v33","v34","v37","v15","v24","v29","v32","v35","v36","v39","v42","v9","v14","v55","v57","v18","v31","v38","v43","v53","v53+","v3","v26","v41","v51"], "paddingInner": 0, "paddingOuter": 0}, "axis": null}}}
              ]
            }
          ]
        },
        {
          "bounds": "flush",
          "spacing": 81,
          "hconcat": [
            {"width": 187, "height": 100, "data": {"values": []}, "mark": {"type": "text"}, "encoding": {}},
            {"width": 43, "height": 100, "data": {"name": "leg"}, "transform": [{"filter": "datum.k == 'b'"}],
             "mark": {"type": "rect", "stroke": "#222", "strokeWidth": 1.3},
             "encoding": {"y": {"field": "lab", "type": "nominal", "scale": {"type": "band", "domain": ["ND*","<1.5","1.5~4","4~10","10~"], "paddingInner": 0.08, "paddingOuter": 0.04},
                                "axis": {"orient": "left", "domain": false, "ticks": false, "title": null, "labelPadding": 2, "labelFont": "Liberation Serif, Times New Roman, Times, DejaVu Serif, serif", "labelFontSize": 16, "labelColor": "#000"}},
                          "color": {"field": "c", "type": "nominal", "scale": {"domain": ["W","P1","P2","P3","P4","G","B1","B2","B3","B4","R1","R2","R3","R4"], "range": ["#ffffff","#e1dfee","#b2a2c8","#604a7b","#403152","#a6a6a6","#daeef3","#8db4e2","#548dd4","#17375e","#f2dcdb","#d99694","#953735","#632523"]}, "legend": null}}},
            {"width": 40, "height": 100, "data": {"name": "leg"}, "transform": [{"filter": "datum.k == 'r'"}],
             "mark": {"type": "rect", "stroke": "#222", "strokeWidth": 1.3},
             "encoding": {"y": {"field": "lab", "type": "nominal", "scale": {"type": "band", "domain": ["ND",">0.75","0.75~0.25","0.25~0.1","0.1~"], "paddingInner": 0.08, "paddingOuter": 0.04},
                                "axis": {"orient": "left", "domain": false, "ticks": false, "title": null, "labelPadding": 2, "labelFont": "Liberation Serif, Times New Roman, Times, DejaVu Serif, serif", "labelFontSize": 16, "labelColor": "#000"}},
                          "color": {"field": "c", "type": "nominal", "scale": {"domain": ["W","P1","P2","P3","P4","G","B1","B2","B3","B4","R1","R2","R3","R4"], "range": ["#ffffff","#e1dfee","#b2a2c8","#604a7b","#403152","#a6a6a6","#daeef3","#8db4e2","#548dd4","#17375e","#f2dcdb","#d99694","#953735","#632523"]}, "legend": null}}},
            {"width": 30, "height": 100, "data": {"name": "leg"}, "transform": [{"filter": "datum.k == 'p'"}],
             "mark": {"type": "rect", "stroke": "#222", "strokeWidth": 1.3},
             "encoding": {"y": {"field": "lab", "type": "nominal", "scale": {"type": "band", "domain": ["NC","<0.5","0.5~1.5","1.5~5","5~"], "paddingInner": 0.08, "paddingOuter": 0.04},
                                "axis": {"orient": "left", "domain": false, "ticks": false, "title": null, "labelPadding": 2, "labelFont": "Liberation Serif, Times New Roman, Times, DejaVu Serif, serif", "labelFontSize": 16, "labelColor": "#000"}},
                          "color": {"field": "c", "type": "nominal", "scale": {"domain": ["W","P1","P2","P3","P4","G","B1","B2","B3","B4","R1","R2","R3","R4"], "range": ["#ffffff","#e1dfee","#b2a2c8","#604a7b","#403152","#a6a6a6","#daeef3","#8db4e2","#548dd4","#17375e","#f2dcdb","#d99694","#953735","#632523"]}, "legend": null}}}
          ]
        }
      ]
    }
  ]
}
